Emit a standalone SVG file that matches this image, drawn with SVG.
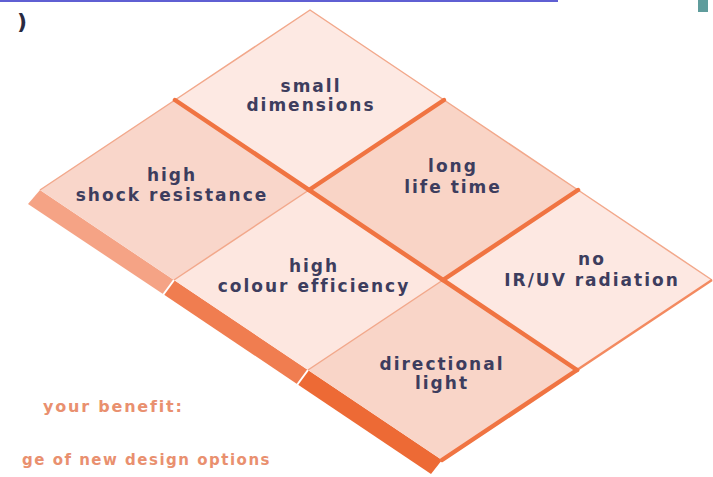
<svg xmlns="http://www.w3.org/2000/svg" width="713" height="477" viewBox="0 0 713 477">
<style>
.lbl{font-family:"DejaVu Sans",Verdana,sans-serif;font-weight:bold;font-size:17px;letter-spacing:2px;fill:#3d3d5e;text-anchor:middle}
.ben{font-family:"DejaVu Sans",Verdana,sans-serif;font-weight:bold;fill:#e9906f}
.thin{fill:none;stroke:#f2a88b;stroke-width:1.5;stroke-linejoin:round}
.thick{fill:none;stroke:#f07442;stroke-width:4.5;stroke-linecap:round}
.mid{fill:none;stroke:#f38a60;stroke-width:2.5}
</style>
<rect width="713" height="477" fill="#ffffff"/>
<rect x="0" y="0" width="558" height="2" fill="#5f5fd3"/>
<rect x="698" y="0" width="10" height="12" fill="#5f9c9c"/>
<text x="17" y="29" font-family="DejaVu Sans,Verdana,sans-serif" font-weight="bold" font-size="22" fill="#2a2a40">)</text>

<g id="bands">
<polygon points="40,190 174,280 163,294 28,204" fill="#f5a385"/>
<polygon points="174,280 308,370 297,384 163,294" fill="#f07d50"/>
<polygon points="308,370 442,460 431,474 297,384" fill="#ed6a35"/>
<line x1="174" y1="280" x2="163" y2="295" stroke="#ffffff" stroke-width="2"/>
<line x1="308" y1="370" x2="297" y2="385" stroke="#ffffff" stroke-width="2"/>
</g>

<g id="n-small">
<polygon points="310,10 444,100 309,190 175,100" fill="#fde9e3"/>
<text class="lbl" x="311" y="92">small</text>
<text class="lbl" x="311" y="111">dimensions</text>
</g>
<g id="n-shock">
<polygon points="175,100 309,190 174,280 40,190" fill="#f9d6ca"/>
<text class="lbl" x="172" y="181">high</text>
<text class="lbl" x="172" y="201">shock resistance</text>
</g>
<g id="n-long">
<polygon points="444,100 578,190 443,280 309,190" fill="#f9d4c6"/>
<text class="lbl" x="453" y="172">long</text>
<text class="lbl" x="453" y="193">life time</text>
</g>
<g id="n-colour">
<polygon points="309,190 443,280 308,370 174,280" fill="#fde7e0"/>
<text class="lbl" x="314" y="272">high</text>
<text class="lbl" x="314" y="292">colour efficiency</text>
</g>
<g id="n-iruv">
<polygon points="578,190 712,280 577,370 443,280" fill="#fde8e2"/>
<text class="lbl" x="592" y="265">no</text>
<text class="lbl" x="592" y="286">IR/UV radiation</text>
</g>
<g id="n-directional">
<polygon points="443,280 577,370 442,460 308,370" fill="#f9d5c8"/>
<text class="lbl" x="442" y="370">directional</text>
<text class="lbl" x="442" y="389">light</text>
</g>

<g id="connectors">
<polyline class="thin" points="40,190 175,100 310,10 444,100 578,190 712,280"/>
<line class="thin" x1="174" y1="280" x2="309" y2="190"/>
<line class="thin" x1="308" y1="370" x2="443" y2="280"/>
<line class="thick" x1="175" y1="100" x2="577" y2="370"/>
<line class="thick" x1="444" y1="100" x2="309" y2="190"/>
<line class="thick" x1="578" y1="190" x2="443" y2="280"/>
<line class="mid" x1="712" y1="280" x2="577" y2="370"/>
<line class="thick" x1="577" y1="370" x2="442" y2="460"/>
</g>

<text class="ben" x="43" y="412" font-size="16" letter-spacing="1.8">your benefit:</text>
<text class="ben" x="22" y="465" font-size="15" letter-spacing="1.5">ge of new design options</text>
</svg>
